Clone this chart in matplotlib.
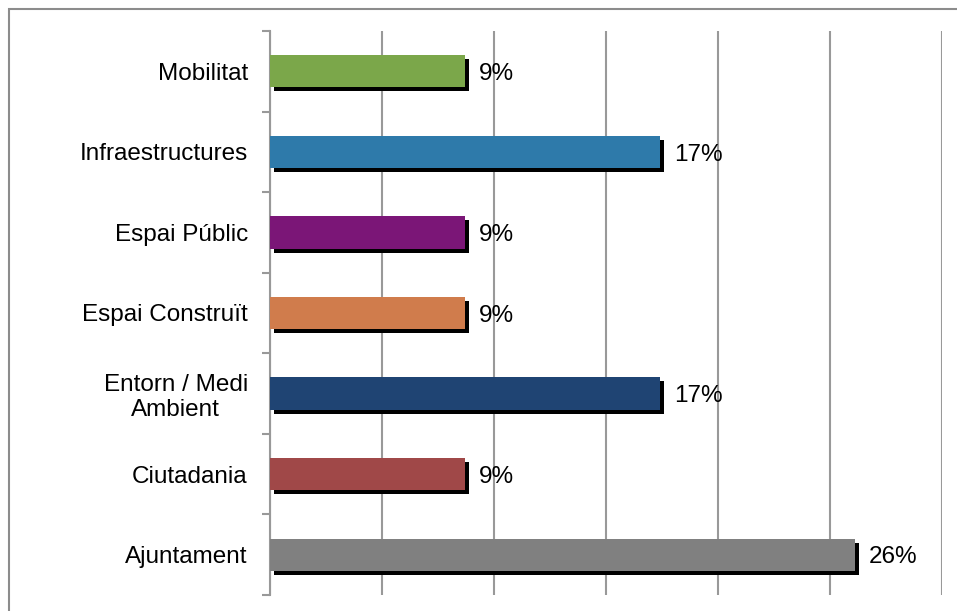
import matplotlib.pyplot as plt
import matplotlib.transforms as mtransforms
from matplotlib.patches import Rectangle
from matplotlib.ticker import MultipleLocator
import numpy as np

categories = ["Mobilitat", "Infraestructures", "Espai Públic", "Espai Construït",
              "Entorn / Medi\nAmbient", "Ciutadania", "Ajuntament"]
values = [8.7, 17.4, 8.7, 8.7, 17.4, 8.7, 26.1]
labels = ["9%", "17%", "9%", "9%", "17%", "9%", "26%"]
colors = ["#7ba74a", "#2e7aaa", "#7b1677", "#d07c4c", "#1f4473", "#a04848", "#808080"]

plt.rcParams["font.family"] = ["Liberation Sans", "DejaVu Sans"]

fig = plt.figure(figsize=(9.57, 6.11), dpi=100)
ax = fig.add_axes([270 / 957, 1 - 595 / 611, 672 / 957, 564 / 611])

y = np.arange(len(categories))
# black drop shadow behind each bar
shadow = mtransforms.offset_copy(ax.transData, fig=fig, x=4, y=-4, units="dots")
ax.barh(y, values, height=0.4, color="black", transform=shadow, zorder=2)
ax.barh(y, values, height=0.4, color=colors, zorder=3)

for yi, v, lab in zip(y, values, labels):
    ax.annotate(lab, (v, yi), xytext=(10, -2), textcoords="offset points",
                va="center", ha="left", fontsize=17.5, color="black")

ax.set_xlim(0, 30)
ax.set_ylim(len(categories) - 0.5, -0.5)
ax.xaxis.set_major_locator(MultipleLocator(5))
ax.grid(axis="x", color="#999999", linewidth=1.5, zorder=0)
ax.tick_params(axis="x", length=0, labelbottom=False)

ax.set_yticks(y)
ax.set_yticklabels(categories, fontsize=17.5, ha="right", multialignment="center")
ax.set_yticks(np.arange(len(categories) + 1) - 0.5, minor=True)
ax.tick_params(axis="y", which="major", length=0, pad=16)
ax.tick_params(axis="y", which="minor", length=6, width=1.5, color="#999999")

for s in ["top", "right", "bottom"]:
    ax.spines[s].set_visible(False)
ax.spines["left"].set_color("#999999")
ax.spines["left"].set_linewidth(1.5)

# outer frame (right and bottom edges fall outside the picture)
fig.patches.append(Rectangle((9 / 957, -0.1), 1.2, 1 - 9 / 611 + 0.1,
                             transform=fig.transFigure, fill=False,
                             edgecolor="#8c8c8c", linewidth=1.5))

fig.savefig("out.png", dpi=100)
